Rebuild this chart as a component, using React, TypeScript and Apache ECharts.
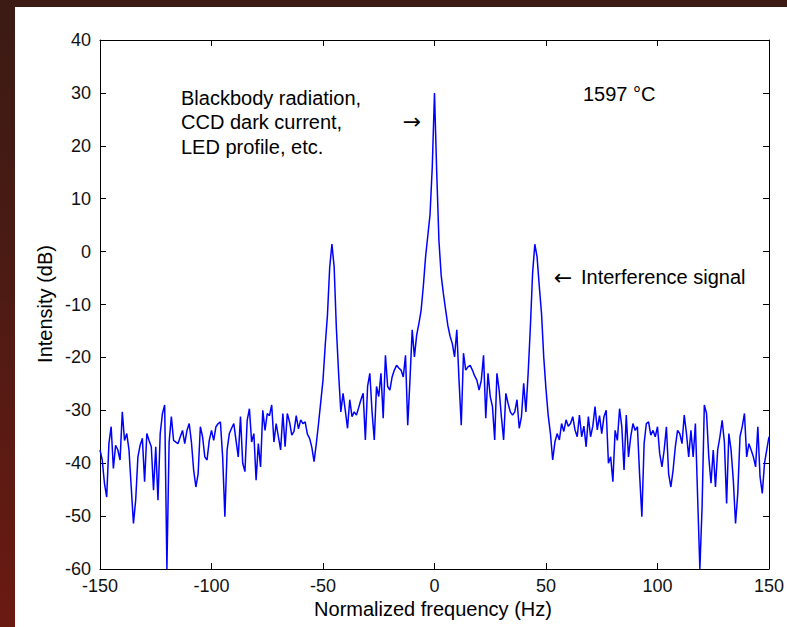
import React, { useEffect, useRef } from "react";
import * as echarts from "echarts";

// Sampling grid of the spectrum (Hz)
const freqStart = -150;
const freqStep = 1;

// Intensity (dB) for f = -150 ... -1
const intensityNeg = [
  -37.5, -39.4, -43.8, -46.4, -36.3, -33.1, -41, -36.6, -37.5, -39.4,
  -30.3, -35.7, -34.4, -37.5, -44.5, -51.4, -47, -38.8, -36.6, -35.3,
  -43.5, -34.4, -35.7, -36.9, -45.1, -36.9, -47, -34.4, -30.6, -29,
  -60, -36, -31.2, -35.7, -36, -36.3, -35, -33.8, -36.3, -33.8,
  -32.5, -36, -41.3, -44.5, -42, -33.1, -35, -38.8, -39.4, -35.7,
  -33.8, -35.7, -33.1, -32.5, -32.2, -38.8, -50.1, -37.5, -34.4, -33.4,
  -32.5, -35.7, -38.8, -31.2, -40, -41.6, -31.9, -29.7, -36, -34.4,
  -43.2, -36.3, -40.7, -30, -33.8, -30.6, -31, -29, -36, -32.5,
  -35, -37.5, -30.6, -36.9, -30.6, -32.2, -34.7, -34, -31, -33.5,
  -31.8, -32.5, -32.2, -34.5, -35.3, -37, -39.7, -36.3, -32.5, -28.4,
  -24.3, -17.7, -12, -3, 1.4, -2.9, -14.5, -23, -30.3, -26.8,
  -30, -33.4, -28, -31.2, -30.3, -30.9, -29.5, -28, -26.8, -35.6,
  -25.5, -23, -30.3, -35.6, -25.5, -27.4, -23, -31.5, -19.6, -25.5,
  -26.2, -23.7, -22.4, -21.5, -22, -22.4, -23.7, -19.6, -32.8, -24.3,
  -14.8, -19.9, -15.8, -13.6, -11.1, -6.5, -1, 3, 7, 16,
];

// Intensity (dB) for f = 0 ... 150
const intensityPos = [
  30,
  15, 2, -4.5, -8, -11, -14, -16, -17.4, -19.9, -14.8,
  -24.3, -32.8, -19.2, -22.4, -21.8, -21.5, -22.4, -23.5, -24.3, -26.2,
  -24.3, -19.6, -31.5, -23, -27.4, -29.3, -35.6, -23, -26.2, -31.2,
  -35.6, -26.8, -28.7, -30.3, -30.9, -30.3, -28, -33.4, -31.2, -24.9,
  -30.3, -23, -14.2, -4, 1.4, -1, -6.6, -11.7, -20, -26,
  -31, -34.4, -39.4, -36, -34.4, -35.6, -32.5, -34, -31.8, -33,
  -32.5, -31.2, -33.7, -35, -30.9, -35, -33, -36.9, -31.2, -35,
  -33, -29.3, -33.7, -31, -34.4, -31.2, -30, -40, -38.8, -43.5,
  -33.8, -35.7, -29.7, -33.1, -41.3, -30.9, -38.8, -35, -32.5, -33.8,
  -33.1, -42.3, -50.1, -36.3, -32.5, -32.2, -34.7, -33.8, -35, -33.1,
  -38.2, -40.7, -37.5, -33.1, -42, -44.5, -41.3, -36.9, -33.8, -34.4,
  -36.3, -30.9, -34.4, -38.8, -33.8, -38.8, -32.5, -46.4, -60, -48.3,
  -29, -30.6, -38.8, -43.8, -37.5, -44.5, -37.5, -35, -31.9, -36,
  -47.6, -34.4, -37.5, -43.2, -51.4, -45.7, -35, -33.1, -30.6, -38.8,
  -36.3, -37.5, -38.8, -40.7, -33.1, -42.6, -45.7, -40, -37.5, -35,
];

const xTitle = "Normalized frequency (Hz)";
const yTitle = "Intensity (dB)";
const noteLines = ["Blackbody radiation,", "CCD dark current,", "LED profile, etc."];
const tempLabel = "1597 °C";
const interferenceLabel = "Interference signal";

export default function App() {
  const ref = useRef<HTMLDivElement>(null);
  useEffect(() => {
    document.body.style.margin = "0";
    const chart = echarts.init(ref.current!, null, { renderer: "svg" });
    const values = [...intensityNeg, ...intensityPos];
    const data = values.map((v, i) => [freqStart + i * freqStep, v]);
    const font = "'Liberation Sans', Arial, Helvetica, sans-serif";
    const arrowFont = "'DejaVu Sans', sans-serif";
    const axisCommon = {
      axisLine: { show: true, onZero: false, lineStyle: { color: "#000", width: 1 } },
      axisTick: { show: true, inside: true, length: 6, lineStyle: { color: "#000", width: 1 } },
      splitLine: { show: false },
    };
    const txt = (text: string, x: number, y: number, extra: any = {}) => ({
      type: "text",
      x,
      y,
      silent: true,
      ...extra,
      style: {
        text,
        fill: "#000",
        font: `20px ${font}`,
        align: "left",
        verticalAlign: "middle",
        ...(extra.style || {}),
      },
    });
    chart.setOption({
      animation: false,
      backgroundColor: "transparent",
      grid: { left: 100, right: 15, top: 40, bottom: 58 },
      xAxis: [
        {
          type: "value", min: -150, max: 150, interval: 50, position: "bottom",
          ...axisCommon,
          axisLabel: { color: "#111", fontSize: 18, fontFamily: font, margin: 8 },
        },
        {
          type: "value", min: -150, max: 150, interval: 50, position: "top",
          ...axisCommon,
          axisLabel: { show: false },
        },
      ],
      yAxis: [
        {
          type: "value", min: -60, max: 40, interval: 10, position: "left",
          ...axisCommon,
          axisLabel: { color: "#111", fontSize: 18, fontFamily: font, margin: 9 },
        },
        {
          type: "value", min: -60, max: 40, interval: 10, position: "right",
          ...axisCommon,
          axisLabel: { show: false },
        },
      ],
      series: [
        {
          type: "line",
          xAxisIndex: 0,
          yAxisIndex: 0,
          data,
          showSymbol: false,
          clip: true,
          lineStyle: { color: "#0000ff", width: 1.5 },
        },
      ],
      graphic: [
        txt(yTitle, 45, 304, { rotation: Math.PI / 2, style: { align: "center" } }),
        txt(xTitle, 433, 609, { style: { align: "center" } }),
        txt(noteLines[0], 181, 98),
        txt(noteLines[1], 181, 122),
        txt(noteLines[2], 181, 147),
        txt("→", 412, 121, { style: { align: "center", font: `22px ${arrowFont}` } }),
        txt(tempLabel, 583, 94),
        txt("←", 563, 277, { style: { align: "center", font: `22px ${arrowFont}` } }),
        txt(interferenceLabel, 581, 277),
      ],
    });
    return () => chart.dispose();
  }, []);
  return (
    <div
      style={{
        position: "relative",
        width: 787,
        height: 627,
        overflow: "hidden",
        background: "linear-gradient(to bottom, #3b1b14 0%, #4a1b14 40%, #6b1a12 100%)",
      }}
    >
      <div style={{ position: "absolute", left: 15, top: 7, right: 0, bottom: 0, background: "#fff" }} />
      <div ref={ref} style={{ position: "absolute", left: 0, top: 0, width: 787, height: 627 }} />
    </div>
  );
}
